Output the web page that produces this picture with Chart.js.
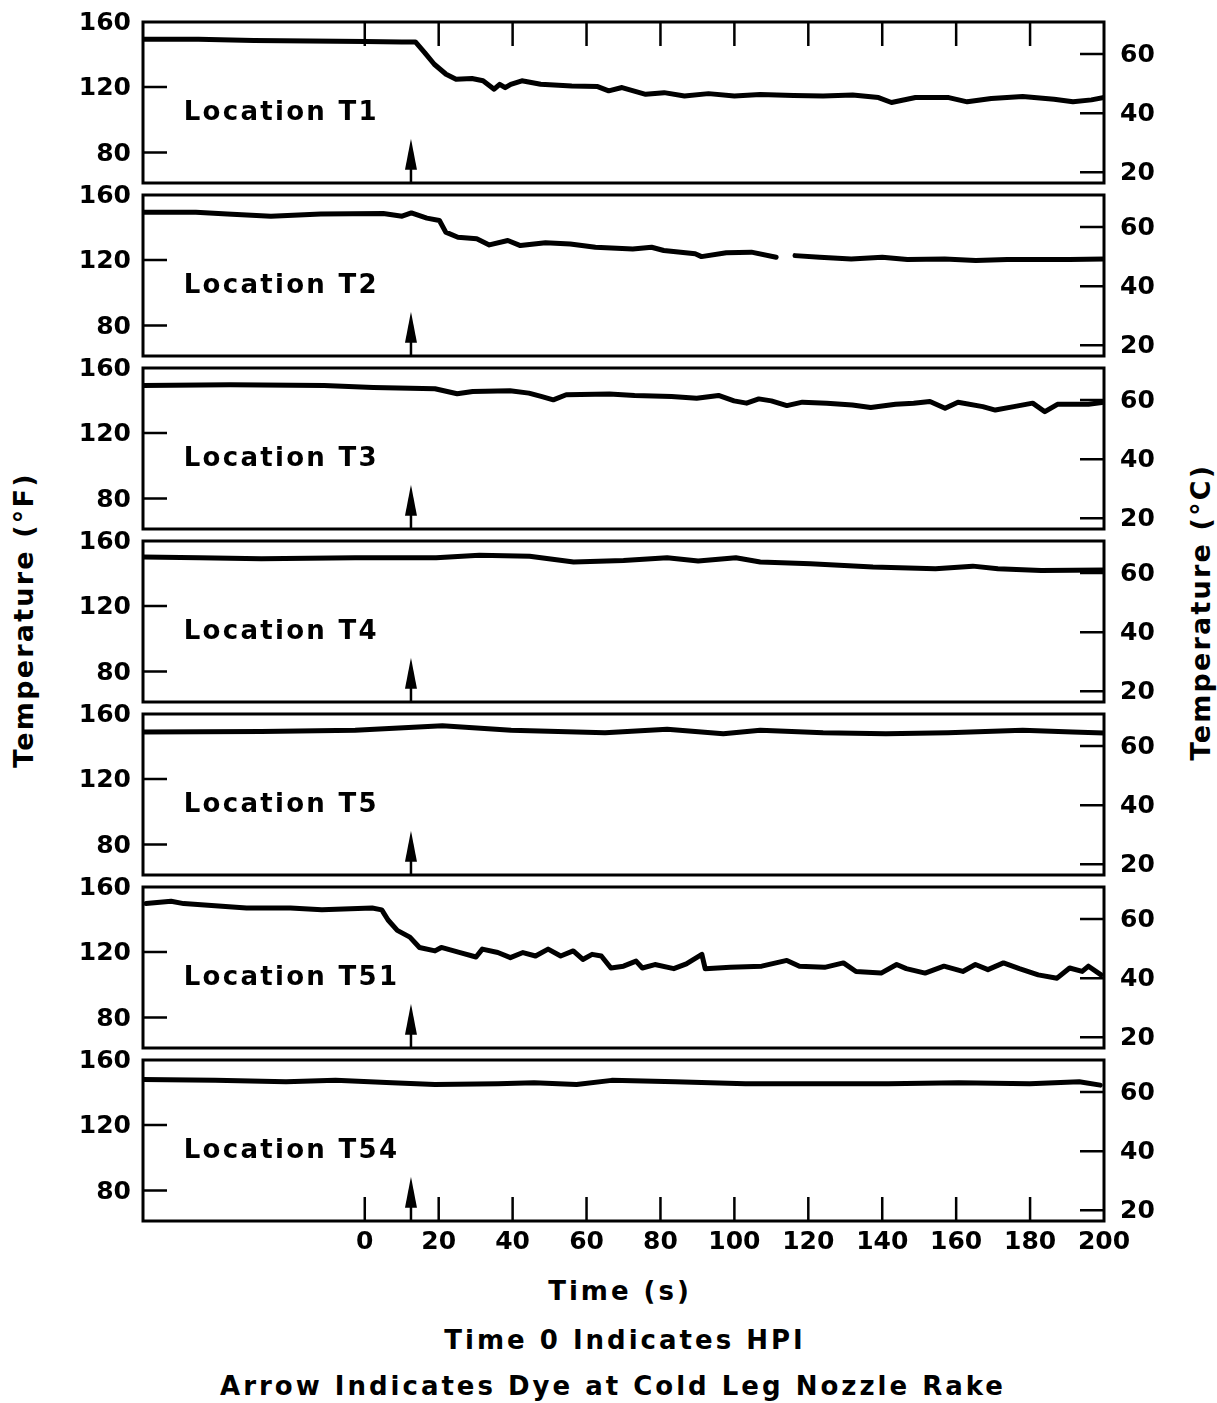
<!DOCTYPE html>
<html>
<head>
<meta charset="utf-8">
<title>Temperature at Locations T1 - T54</title>
<script src="https://cdn.jsdelivr.net/npm/chart.js"></script>
<style>
    body { margin: 0; background: #fff; }
    #page { position: relative; width: 1217px; height: 1403px; overflow: hidden;
            font-family: "DejaVu Sans", sans-serif; font-weight: bold; color: #000; }
    #page canvas { position: absolute; left: 0; }
    .txt { position: absolute; white-space: nowrap; font-size: 26px; letter-spacing: 3px;
           transform: translate(-50%, -50%); }
    .rot { font-size: 27px; letter-spacing: 2.2px; transform: translate(-50%, -50%) rotate(-90deg); }
</style>
</head>
<body>
<div id="page">
    <div class="txt rot" style="left:23px; top:620px;">Temperature (°F)</div>
    <div class="txt rot" style="left:1200px; top:612px;">Temperature (°C)</div>
    <div class="txt" style="left:620px; top:1291px;">Time (s)</div>
    <div class="txt" style="left:625px; top:1340px;">Time 0 Indicates HPI</div>
    <div class="txt" style="left:613px; top:1386px;">Arrow Indicates Dye at Cold Leg Nozzle Rake</div>
</div>

<script>
// values (time in s, temperature in °F)
const LOCATIONS = ['T1', 'T2', 'T3', 'T4', 'T5', 'T51', 'T54'];

const T1_TIME = [-60, -45, -30, -15, 0, 10, 13.7, 16.2, 18.8, 22, 24.7, 29, 32, 35, 36.5, 38, 39.5, 42.5, 47.6, 56, 63, 66, 69.6, 76, 81, 86.5, 93, 100, 107, 116, 124, 132, 139, 142.5, 149, 158, 163, 169.5, 178, 186.5, 191.6, 196.6, 200];
const T1_TEMP = [149.0, 149.0, 148.2, 148.0, 147.6, 147.4, 147.4, 140.9, 133.8, 127.7, 124.7, 125.1, 123.7, 118.6, 121.6, 119.5, 121.5, 123.7, 121.6, 120.6, 120.2, 117.6, 119.6, 115.5, 116.5, 114.5, 115.9, 114.5, 115.3, 114.8, 114.5, 115.1, 113.5, 110.5, 113.5, 113.5, 110.9, 112.9, 114.1, 112.5, 110.9, 112.1, 113.5];

const T2_TIME = [-60, -45.7, -37.2, -25.4, -11.9, 5, 10.1, 12.6, 16.8, 20.2, 21.9, 25.2, 30.3, 33.7, 38.7, 42.1, 48.9, 55.6, 62.4, 72.5, 77.6, 80.9, 89.4, 91.1, 97.8, 104.6, 111.3, 114, 116.4, 123.1, 131.6, 140, 146.8, 156.9, 165.3, 173.8, 182.2, 190.7, 200];
const T2_TEMP = [149.0, 149.0, 148.0, 146.6, 148.0, 148.2, 146.6, 148.6, 145.4, 144.0, 136.9, 133.8, 132.8, 129.1, 131.8, 128.7, 130.4, 129.7, 127.7, 126.7, 127.7, 125.7, 123.7, 122.0, 124.3, 124.7, 121.6, null, 122.6, 121.6, 120.6, 121.6, 120.2, 120.6, 119.6, 120.2, 120.2, 120.2, 120.6];

const T3_TIME = [-60, -36.4, -11, 2.3, 19, 25, 29.2, 39.3, 44.4, 47.7, 51, 54.5, 66.2, 73, 83, 89.8, 95.7, 99.9, 103.3, 106.6, 110, 114.2, 118.4, 125, 131.9, 136.9, 143.6, 148.5, 152.9, 157, 160.5, 167.2, 170.6, 175.6, 180.7, 184, 187.4, 195.8, 200];
const T3_TEMP = [148.9, 149.3, 148.9, 147.7, 146.9, 143.8, 145.2, 145.6, 144.2, 142.2, 140.1, 143.2, 143.6, 142.8, 142.2, 141.1, 142.8, 139.5, 138.1, 140.7, 139.5, 136.6, 138.7, 138.1, 137.0, 135.4, 137.4, 138.1, 139.1, 135.0, 138.7, 136.0, 133.9, 136.0, 138.1, 132.9, 137.4, 137.4, 138.7];

const T4_TIME = [-60, -44.8, -28, -2.6, 19.3, 31, 44.6, 56.5, 70, 81.8, 90.2, 100.4, 107, 120.6, 137.5, 154.4, 164.5, 171.3, 183, 200];
const T4_TEMP = [149.7, 149.3, 148.7, 149.3, 149.3, 150.8, 150.2, 146.7, 147.7, 149.3, 147.3, 149.3, 146.7, 145.6, 143.6, 142.6, 144.2, 142.6, 141.5, 141.9];

const T5_TIME = [-60, -28, -2.6, 21, 39.6, 65, 81.8, 97, 107, 124, 141, 157.8, 178, 191.5, 200];
const T5_TEMP = [148.5, 148.9, 149.6, 152.3, 149.6, 148.1, 150.2, 147.5, 149.6, 148.1, 147.5, 148.1, 149.6, 148.5, 147.9];

const T51_TIME = [-59.2, -52.4, -49, -40.5, -32, -20.1, -11.6, 2, 4.6, 6.3, 8.8, 12.2, 14.8, 19, 20.7, 25.8, 30.1, 31.8, 36, 39.4, 42.8, 46.2, 49.6, 53, 56.4, 59, 61.5, 64, 66.6, 70, 73.4, 75.1, 78.5, 83.6, 87, 91.2, 92.1, 98.9, 107.4, 114.2, 117.6, 124.4, 129.5, 132.9, 139.7, 143.9, 146.5, 151.6, 156.7, 161.8, 165.2, 168.6, 172.8, 177.1, 182.2, 187.3, 190.7, 194.1, 195.8, 199.2];
const T51_TEMP = [149.4, 150.8, 149.4, 148.1, 146.7, 146.7, 145.6, 146.7, 145.6, 139.4, 133.1, 129.0, 122.7, 120.6, 122.7, 119.6, 116.9, 121.7, 119.6, 116.5, 119.6, 117.5, 121.7, 117.5, 120.6, 115.4, 118.5, 117.5, 110.2, 111.3, 114.4, 110.2, 112.3, 109.8, 112.7, 118.5, 109.8, 110.6, 111.3, 114.8, 111.3, 110.6, 113.3, 108.1, 107.1, 112.3, 109.8, 107.1, 111.3, 108.1, 112.3, 109.2, 113.3, 109.8, 106.0, 104.0, 110.2, 108.1, 111.3, 106.0];

const T54_TIME = [-60, -40.5, -21.3, -7.9, 7.4, 19, 36, 45.8, 57.3, 66.8, 84, 103, 122, 141.6, 160.7, 179.9, 193.3, 199];
const T54_TEMP = [147.7, 147.1, 146.3, 147.1, 145.6, 144.6, 145.0, 145.6, 144.6, 147.1, 146.3, 145.0, 145.0, 145.0, 145.6, 145.0, 146.3, 144.2];

const PANEL_TIMES = [T1_TIME, T2_TIME, T3_TIME, T4_TIME, T5_TIME, T51_TIME, T54_TIME];
const PANEL_TEMPS = [T1_TEMP, T2_TEMP, T3_TEMP, T4_TEMP, T5_TEMP, T51_TEMP, T54_TEMP];

// time at which the dye arrow sits, per panel
const ARROW_TIME = [12.5, 12.5, 12.5, 12.5, 12.5, 12.5, 12.5];

const TIME_TICKS = [0, 20, 40, 60, 80, 100, 120, 140, 160, 180, 200];
const F_TICKS = [80, 120, 160];
const C_TICKS = [20, 40, 60];

const T_MIN = -60, T_MAX = 200;
const F_MIN = 61.5, F_MAX = 159.5;
const fToC = f => (f - 32) / 1.8;

// layout / style
const INK = '#000';
const FONT_FAMILY = '"DejaVu Sans", sans-serif';
const FRAME_TOP = 22, PITCH = 173, FRAME_H = 161, PAD = 16;
const LEFT_W = 143, RIGHT_W = 113, XAXIS_H = 40;
const TICK_LEN = 24;
const ARROW_TIP_F = 88.5;
const LABEL_T = -49, LABEL_F = 104;

const panelDecor = {
    id: 'panelDecor',
    afterDatasetsDraw(chart, args, opts) {
        const { ctx, chartArea: a } = chart;
        const x = chart.scales.x, y = chart.scales.y, yC = chart.scales.yC;
        ctx.save();
        ctx.strokeStyle = INK;
        ctx.fillStyle = INK;

        // frame
        ctx.lineWidth = 3;
        ctx.strokeRect(a.left, a.top, a.right - a.left, a.bottom - a.top);

        // inside ticks
        ctx.lineWidth = 2.5;
        ctx.beginPath();
        F_TICKS.forEach(v => {
            const py = y.getPixelForValue(v);
            if (py > a.top + 3 && py < a.bottom - 3) {
                ctx.moveTo(a.left, py);
                ctx.lineTo(a.left + TICK_LEN, py);
            }
        });
        C_TICKS.forEach(v => {
            const py = yC.getPixelForValue(v);
            ctx.moveTo(a.right, py);
            ctx.lineTo(a.right - TICK_LEN, py);
        });
        if (opts.topTicks || opts.bottomTicks) {
            TIME_TICKS.forEach(v => {
                if (v >= T_MAX) return;
                const px = x.getPixelForValue(v);
                if (opts.topTicks) { ctx.moveTo(px, a.top); ctx.lineTo(px, a.top + TICK_LEN); }
                if (opts.bottomTicks) { ctx.moveTo(px, a.bottom); ctx.lineTo(px, a.bottom - TICK_LEN); }
            });
        }
        ctx.stroke();

        // dye arrow
        const ax = x.getPixelForValue(opts.arrowT);
        const tip = y.getPixelForValue(ARROW_TIP_F);
        ctx.lineWidth = 2.5;
        ctx.beginPath();
        ctx.moveTo(ax, a.bottom);
        ctx.lineTo(ax, tip + 20);
        ctx.stroke();
        ctx.beginPath();
        ctx.moveTo(ax, tip);
        ctx.lineTo(ax - 6, tip + 31);
        ctx.lineTo(ax + 6, tip + 31);
        ctx.closePath();
        ctx.fill();

        // location label
        ctx.font = 'bold 26px ' + FONT_FAMILY;
        ctx.letterSpacing = '2.3px';
        ctx.textAlign = 'left';
        ctx.textBaseline = 'middle';
        ctx.fillText('Location ' + opts.name, x.getPixelForValue(LABEL_T), y.getPixelForValue(LABEL_F));
        ctx.restore();
    }
};

const tickFont = { family: FONT_FAMILY, size: 25, weight: 'bold' };
const page = document.getElementById('page');

// keep the plot frame exactly where the layout puts it
function noPadding(s) {
    s.paddingTop = 0;
    s.paddingBottom = 0;
    s.paddingLeft = 0;
    s.paddingRight = 0;
}

LOCATIONS.forEach((name, i) => {
    const isTop = i === 0;
    const isBottom = i === LOCATIONS.length - 1;
    const canvas = document.createElement('canvas');
    canvas.width = 1217;
    canvas.height = PAD + FRAME_H + (isBottom ? XAXIS_H : PAD);
    canvas.style.top = (FRAME_TOP + PITCH * i - PAD) + 'px';
    page.appendChild(canvas);

    const points = PANEL_TIMES[i].map((t, k) => ({ x: t, y: PANEL_TEMPS[i][k] }));

    new Chart(canvas, {
        type: 'line',
        data: {
            datasets: [{
                data: points,
                borderColor: INK,
                borderWidth: 5,
                borderJoinStyle: 'round',
                borderCapStyle: 'round',
                pointRadius: 0,
                tension: 0,
                spanGaps: false
            }]
        },
        options: {
            responsive: false,
            animation: false,
            events: [],
            layout: { padding: { top: PAD, bottom: isBottom ? 0 : PAD, left: 0, right: 0 } },
            plugins: {
                legend: { display: false },
                tooltip: { enabled: false },
                panelDecor: { name, arrowT: ARROW_TIME[i], topTicks: isTop, bottomTicks: isBottom }
            },
            scales: {
                x: {
                    type: 'linear',
                    min: T_MIN,
                    max: T_MAX,
                    display: isBottom,
                    grid: { display: false, drawTicks: false },
                    border: { display: false },
                    afterBuildTicks: s => { s.ticks = TIME_TICKS.map(v => ({ value: v })); },
                    afterFit: s => { s.height = isBottom ? XAXIS_H : 0; noPadding(s); },
                    ticks: { font: tickFont, color: INK, padding: 6, maxRotation: 0, autoSkip: false }
                },
                y: {
                    position: 'left',
                    min: F_MIN,
                    max: F_MAX,
                    grid: { display: false, drawTicks: false },
                    border: { display: false },
                    afterBuildTicks: s => { s.ticks = F_TICKS.map(v => ({ value: v })); },
                    afterFit: s => { s.width = LEFT_W; noPadding(s); },
                    ticks: { font: tickFont, color: INK, padding: 12, labelOffset: 2, autoSkip: false }
                },
                yC: {
                    position: 'right',
                    min: fToC(F_MIN),
                    max: fToC(F_MAX),
                    grid: { display: false, drawTicks: false },
                    border: { display: false },
                    afterBuildTicks: s => { s.ticks = C_TICKS.map(v => ({ value: v })); },
                    afterFit: s => { s.width = RIGHT_W; noPadding(s); },
                    ticks: { font: tickFont, color: INK, padding: 16, labelOffset: 1, autoSkip: false }
                }
            }
        },
        plugins: [panelDecor]
    });
});
</script>
</body>
</html>
